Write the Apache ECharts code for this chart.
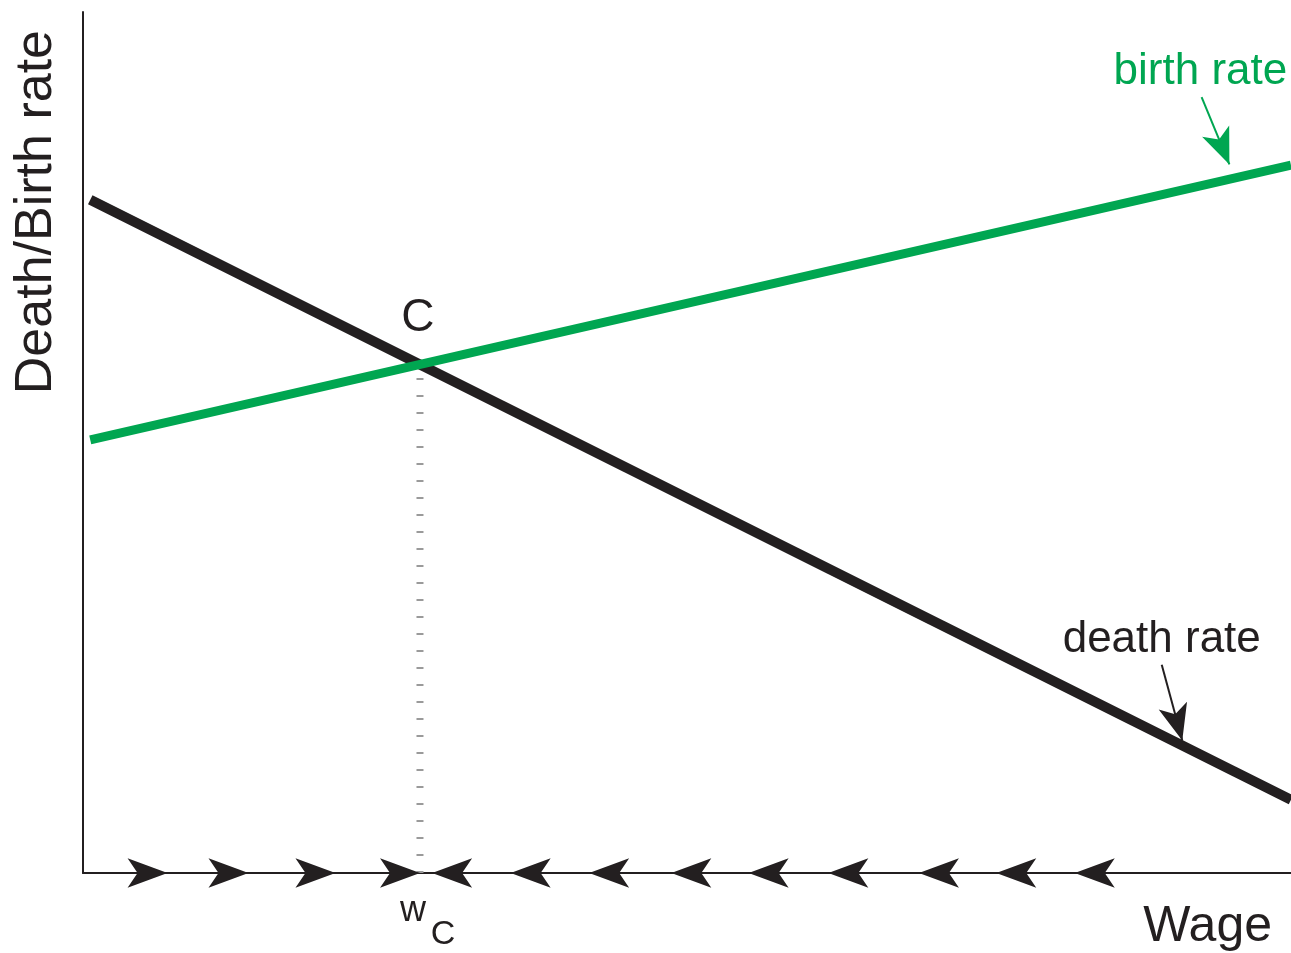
<!DOCTYPE html>
<html>
<head>
<meta charset="utf-8">
<title>Death/Birth rate vs Wage</title>
<script src="https://cdn.jsdelivr.net/npm/echarts@6/dist/echarts.min.js"></script>
<style>
	html, body { margin: 0; padding: 0; background: #fff; }
	#main { width: 1291px; height: 953px; }
</style>
</head>
<body>
<div id="main"></div>
<script>
	// 图中数值按图估读, x: 工资 0-100, y: 死亡率/出生率 0-100
	var wageEnds = [0.6, 100];
	var deathRate = [78.2, 8.5];
	var birthRate = [50.3, 82.2];

	// x轴上的箭头 (箭头尖的位置)
	var rightArrowX = [7.0, 13.7, 20.9, 27.9];
	var leftArrowX = [28.9, 35.4, 41.9, 48.7, 55.1, 61.7, 69.2, 75.6, 82.1];

	// 指向曲线的小箭头: [起点, 终点]
	var birthPointer = [[92.6, 90.1], [94.9, 82.3]];
	var deathPointer = [[89.3, 24.2], [91.0, 15.4]];

	// 曲线名称文字的位置
	var birthLabelAt = [92.5, 93.0];
	var deathLabelAt = [89.3, 27.1];

	var FONT = 'Liberation Sans, Arial, Helvetica, sans-serif';
	var INK = '#231f20';
	var GREEN = '#00a651';

	// 两条直线的交点 C
	function crossing() {
		var x0 = wageEnds[0], x1 = wageEnds[1];
		var sd = (deathRate[1] - deathRate[0]) / (x1 - x0);
		var sb = (birthRate[1] - birthRate[0]) / (x1 - x0);
		var x = x0 + (deathRate[0] - birthRate[0]) / (sb - sd);
		return [x, birthRate[0] + sb * (x - x0)];
	}
	var C = crossing();

	var myChart = echarts.init(document.getElementById('main'));
	var option = {
		animation: false,
		backgroundColor: '#fff',
		grid: {
			left: 83,
			right: 0,
			top: 12,
			bottom: 80,
			containLabel: false,
			outerBoundsMode: 'none'
		},
		xAxis: {
			type: 'value',
			min: 0,
			max: 100,
			name: 'Wage',
			nameLocation: 'end',
			nameGap: -19,
			nameTextStyle: {
				fontFamily: FONT,
				fontSize: 50,
				color: INK,
				align: 'right',
				verticalAlign: 'top',
				padding: [29, 0, 0, 0]
			},
			axisLine: { show: true, lineStyle: { color: INK, width: 2 } },
			axisTick: { show: false },
			axisLabel: { show: false },
			splitLine: { show: false }
		},
		yAxis: {
			type: 'value',
			min: 0,
			max: 100,
			name: 'Death/Birth rate',
			nameLocation: 'end',
			nameRotate: 90,
			nameGap: -18,
			nameTextStyle: {
				fontFamily: FONT,
				fontSize: 52,
				color: INK,
				align: 'right',
				verticalAlign: 'bottom',
				padding: [0, 0, 20, 0]
			},
			axisLine: { show: true, lineStyle: { color: INK, width: 2 } },
			axisTick: { show: false },
			axisLabel: { show: false },
			splitLine: { show: false }
		},
		series: [{
				name: 'wc',
				type: 'line',
				data: [[C[0], 0], [C[0], C[1]]],
				symbol: 'none',
				silent: true,
				z: 1,
				lineStyle: { color: '#9a9a9a', width: 7, type: [2, 15] }
			},
			{
				name: 'death rate',
				type: 'line',
				data: wageEnds.map(function (x, i) { return [x, deathRate[i]]; }),
				symbol: 'none',
				z: 3,
				lineStyle: { color: INK, width: 10 },
				markLine: {
					silent: true,
					symbol: ['none', 'arrow'],
					symbolSize: [22, 36],
					label: { show: false },
					lineStyle: { color: INK, width: 2, type: 'solid' },
					data: [[{ coord: deathPointer[0] }, { coord: deathPointer[1] }]]
				}
			},
			{
				name: 'birth rate',
				type: 'line',
				data: wageEnds.map(function (x, i) { return [x, birthRate[i]]; }),
				symbol: 'none',
				z: 4,
				lineStyle: { color: GREEN, width: 9 },
				markLine: {
					silent: true,
					symbol: ['none', 'arrow'],
					symbolSize: [22, 36],
					label: { show: false },
					lineStyle: { color: GREEN, width: 2, type: 'solid' },
					data: [[{ coord: birthPointer[0] }, { coord: birthPointer[1] }]]
				}
			},
			{
				name: 'right arrows',
				type: 'scatter',
				data: rightArrowX.map(function (x) { return [x, 0]; }),
				symbol: 'arrow',
				symbolSize: [22, 40],
				symbolRotate: -90,
				clip: false,
				z: 5,
				itemStyle: { color: INK, opacity: 1 }
			},
			{
				name: 'left arrows',
				type: 'scatter',
				data: leftArrowX.map(function (x) { return [x, 0]; }),
				symbol: 'arrow',
				symbolSize: [22, 40],
				symbolRotate: 90,
				clip: false,
				z: 5,
				itemStyle: { color: INK, opacity: 1 }
			},
			{
				name: 'notes',
				type: 'scatter',
				symbolSize: 1,
				clip: false,
				silent: true,
				z: 6,
				itemStyle: { color: 'rgba(0,0,0,0)', opacity: 1 },
				label: {
					show: true,
					position: 'inside',
					color: INK,
					fontFamily: FONT
				},
				data: [
					{ value: C, label: { formatter: 'C', fontSize: 46, offset: [-2, -46] } },
					{ value: [C[0], 0], label: { formatter: 'w', fontSize: 36, offset: [-7, 38] } },
					{ value: [C[0], 0], label: { formatter: 'C', fontSize: 34, offset: [23, 62] } },
					{ value: birthLabelAt, label: { formatter: 'birth rate', fontSize: 44, color: GREEN } },
					{ value: deathLabelAt, label: { formatter: 'death rate', fontSize: 44 } }
				]
			}
		]
	};
	myChart.setOption(option);
</script>
</body>
</html>
